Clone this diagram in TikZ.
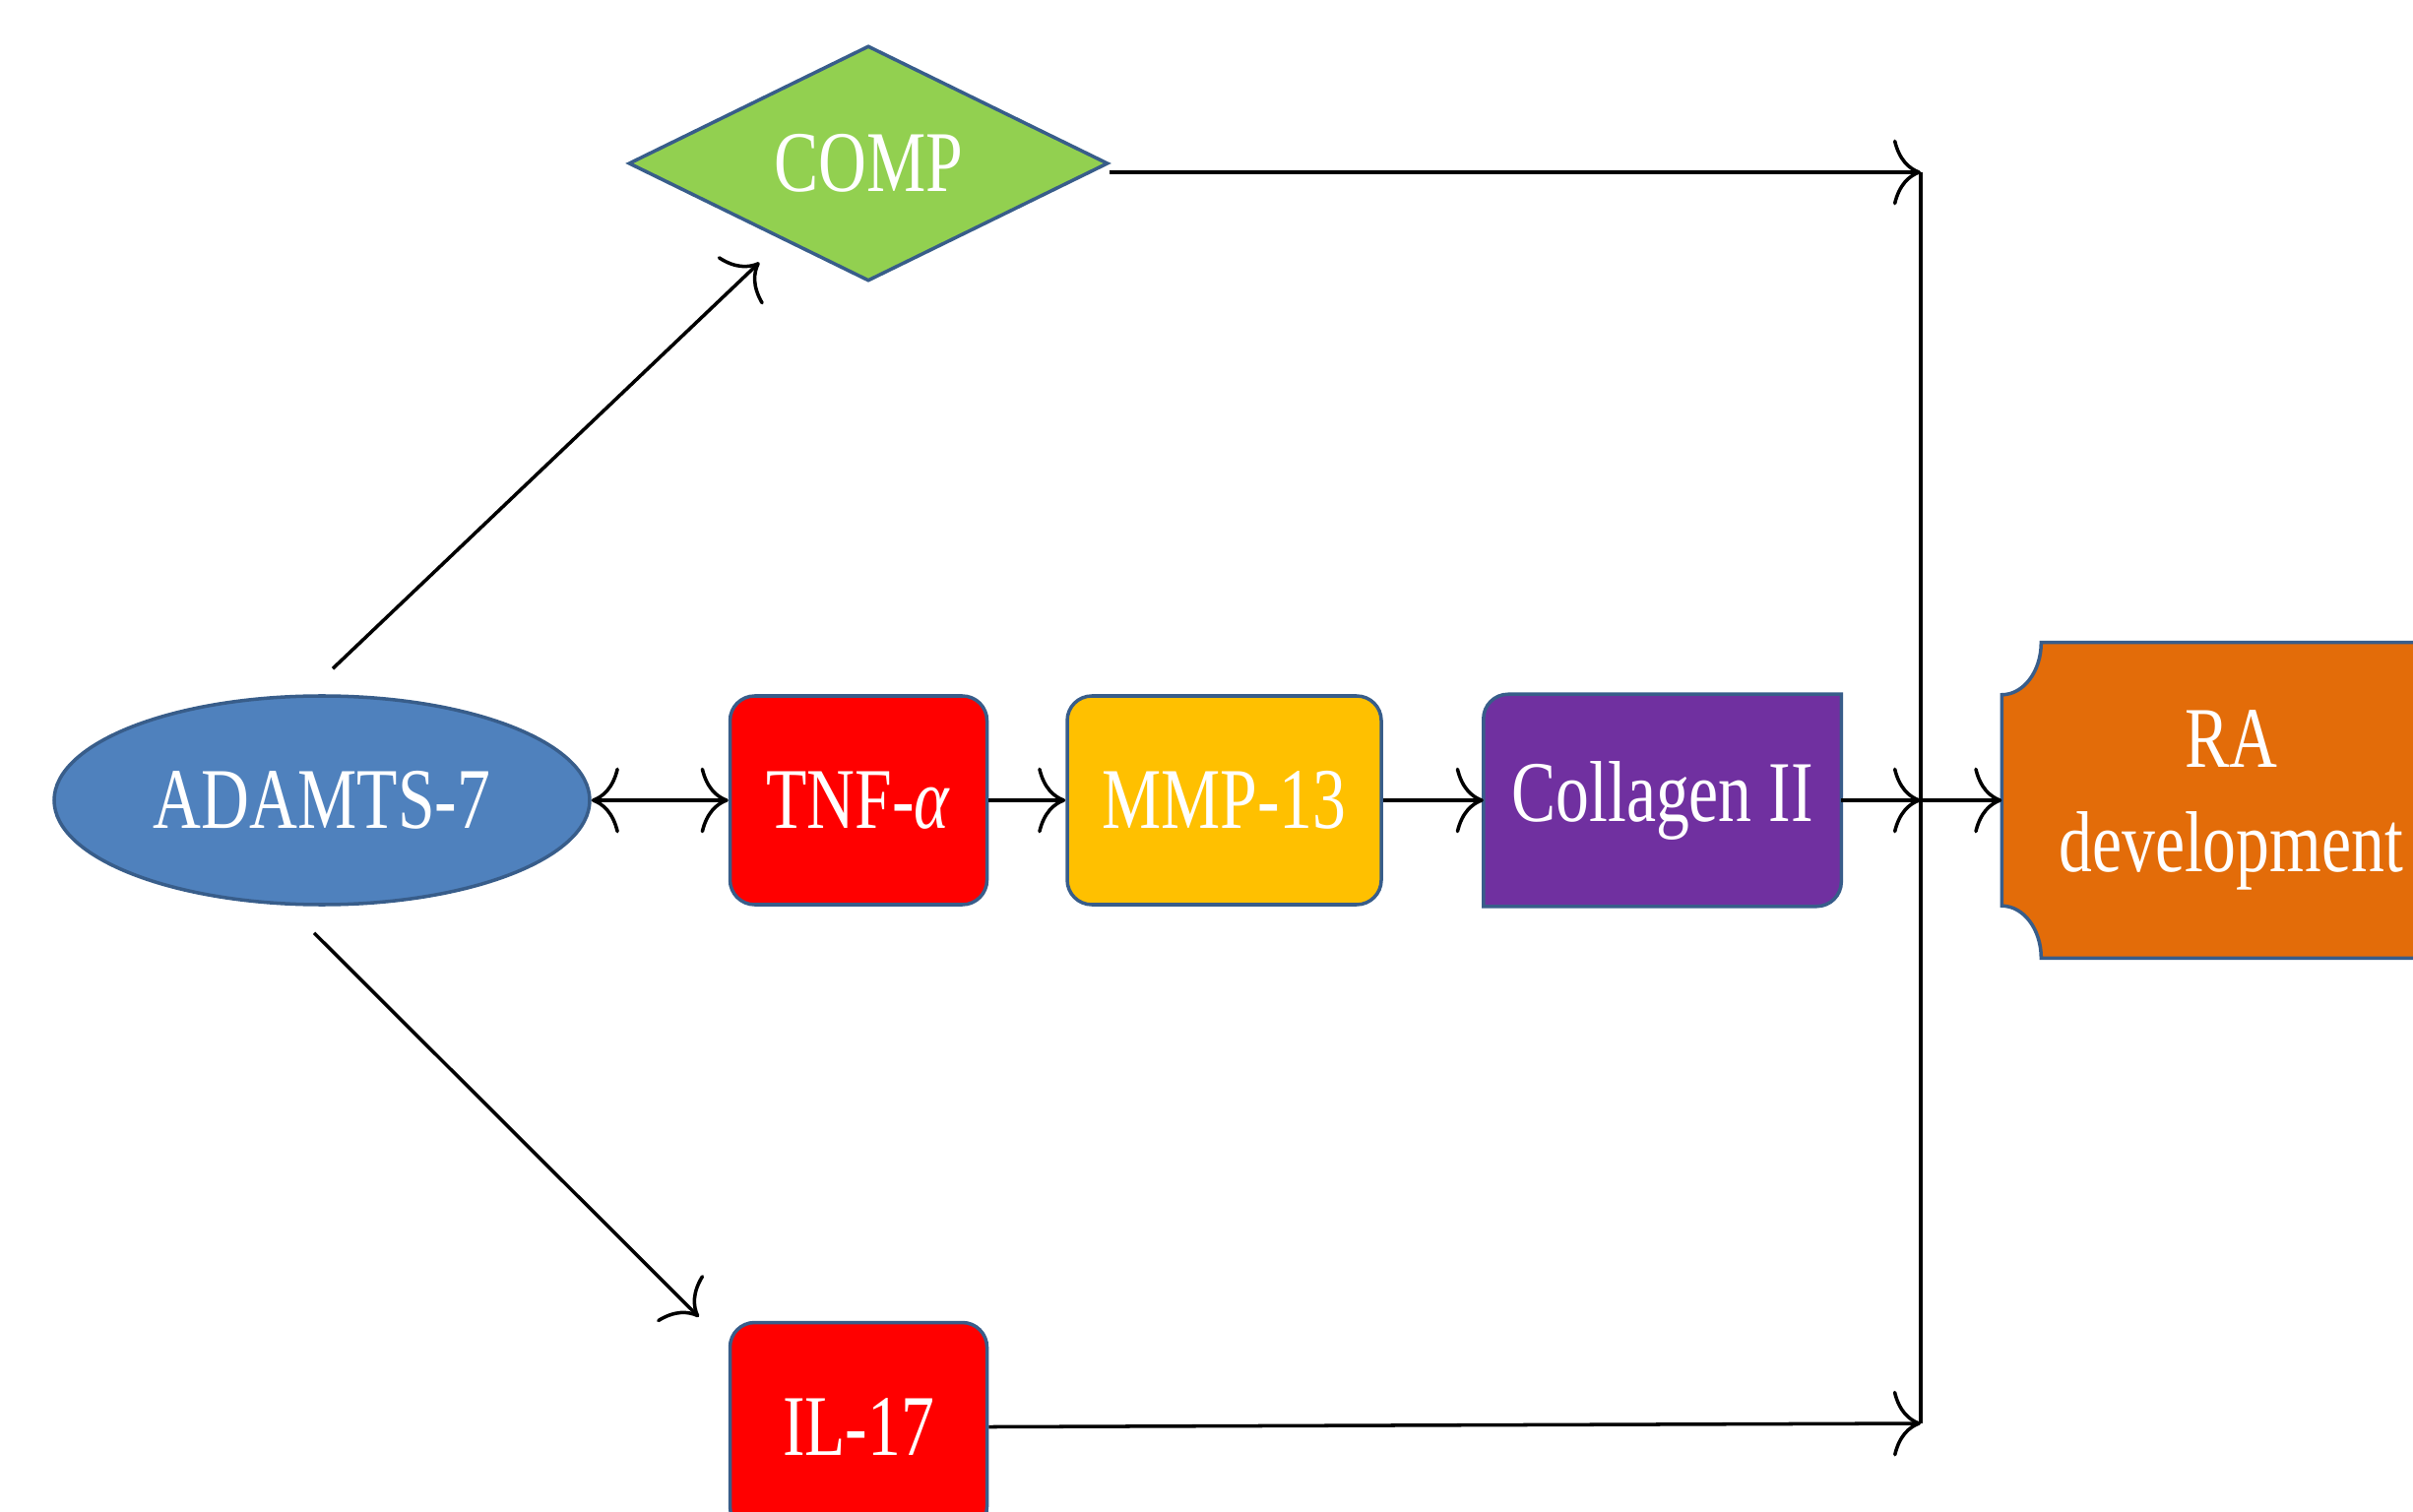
\documentclass[tikz,border=0pt]{standalone}
\usepackage{fontspec}
\setmainfont{Liberation Serif}[FakeStretch=0.77]
\usepackage{xcolor}
\usetikzlibrary{arrows.meta,positioning,calc,shapes.geometric,backgrounds}
\definecolor{edgeblue}{HTML}{385D8A}
\definecolor{adamblue}{HTML}{4F81BD}
\definecolor{compgreen}{HTML}{92D050}
\definecolor{mmpyellow}{HTML}{FFC000}
\definecolor{collpurple}{HTML}{7030A0}
\definecolor{raorange}{HTML}{E36C09}

\begin{document}
\begin{tikzpicture}[
    box/.style={draw=edgeblue,line width=1pt,text=white,font=\fontsize{25}{30}\selectfont,
      minimum height=2.12cm,inner sep=2pt,align=center},
    redbox/.style={box,fill=red,rounded corners=0.25cm,minimum width=2.61cm},
    plain/.style={box,draw=none,fill=none},
    shapeline/.style={draw=edgeblue,line width=1pt},
    flow/.style={-{Computer Modern Rightarrow[length=8pt,width=19pt]},line width=1pt},
    twoway/.style={{Computer Modern Rightarrow[length=8pt,width=19pt]}-{Computer Modern Rightarrow[length=8pt,width=19pt]},line width=1pt}
  ]
    \useasboundingbox (0,0) rectangle (24.51,15.35);
    \node[box,ellipse,fill=adamblue,minimum width=5.44cm] (adam) at (3.27,7.22) {ADAMTS-7};
    \node[box,diamond,aspect=2.04,fill=compgreen,minimum width=4.87cm,minimum height=2.39cm] (comp) at (8.82,13.69) {COMP};
    \node[redbox,right=1.39cm of adam] (tnf) {TNF-\textit{α}};
    \node[box,fill=mmpyellow,rounded corners=0.25cm,minimum width=3.19cm,right=0.78cm of tnf] (mmp) {MMP-13};
    \node[plain,minimum width=3.60cm,right=1.02cm of mmp] (coll) {Collagen II};
    \node[plain,minimum width=4.62cm,minimum height=3.17cm,right=1.63cm of coll] (ra) {RA\\development};
    \node[redbox,below=4.21cm of tnf] (il17) {IL-17};
    \begin{scope}[on background layer]
      \filldraw[shapeline,fill=collpurple] (coll.south west) -- ([yshift=-0.25cm]coll.north west)
        arc[start angle=180,end angle=90,radius=0.25cm] -- (coll.north east)
        -- ([yshift=0.25cm]coll.south east) arc[start angle=0,end angle=-90,radius=0.25cm] -- cycle;
      \filldraw[shapeline,fill=raorange] ([yshift=-0.53cm]ra.north west)
        arc[start angle=-90,end angle=0,x radius=0.40cm,y radius=0.53cm]
        -- ([xshift=-0.40cm]ra.north east) arc[start angle=180,end angle=270,x radius=0.40cm,y radius=0.53cm]
        -- ([yshift=0.53cm]ra.south east) arc[start angle=90,end angle=180,x radius=0.40cm,y radius=0.53cm]
        -- ([xshift=0.40cm]ra.south west) arc[start angle=0,end angle=90,x radius=0.40cm,y radius=0.53cm]
        -- cycle;
    \end{scope}
    \coordinate (jt) at (19.51,13.60);
    \coordinate (jb) at (19.51,0.89);
    \coordinate (jm) at (coll.east -| jt);
    \draw[flow] ($(adam.north)+(0.11,0.26)$) -- ($(comp.west)!0.5!(comp.south)+(0.12,-0.40)$);
    \draw[flow] ($(adam.south)+(-0.08,-0.27)$) -- ($(il17.north west)+(-0.30,0.04)$);
    \draw[twoway] (adam) -- (tnf);
    \draw[flow] (tnf) -- (mmp);
    \draw[flow] (mmp) -- (coll);
    \draw[line width=1pt] (jt) -- (jb);
    \draw[flow] (comp.east |- jt) -- (jt);
    \draw[flow] (coll.east) -- (jm);
    \draw[flow] (jm) -- (ra.west);
    \draw[flow] (il17.east) -- (jb);
  \end{tikzpicture}
\end{document}
